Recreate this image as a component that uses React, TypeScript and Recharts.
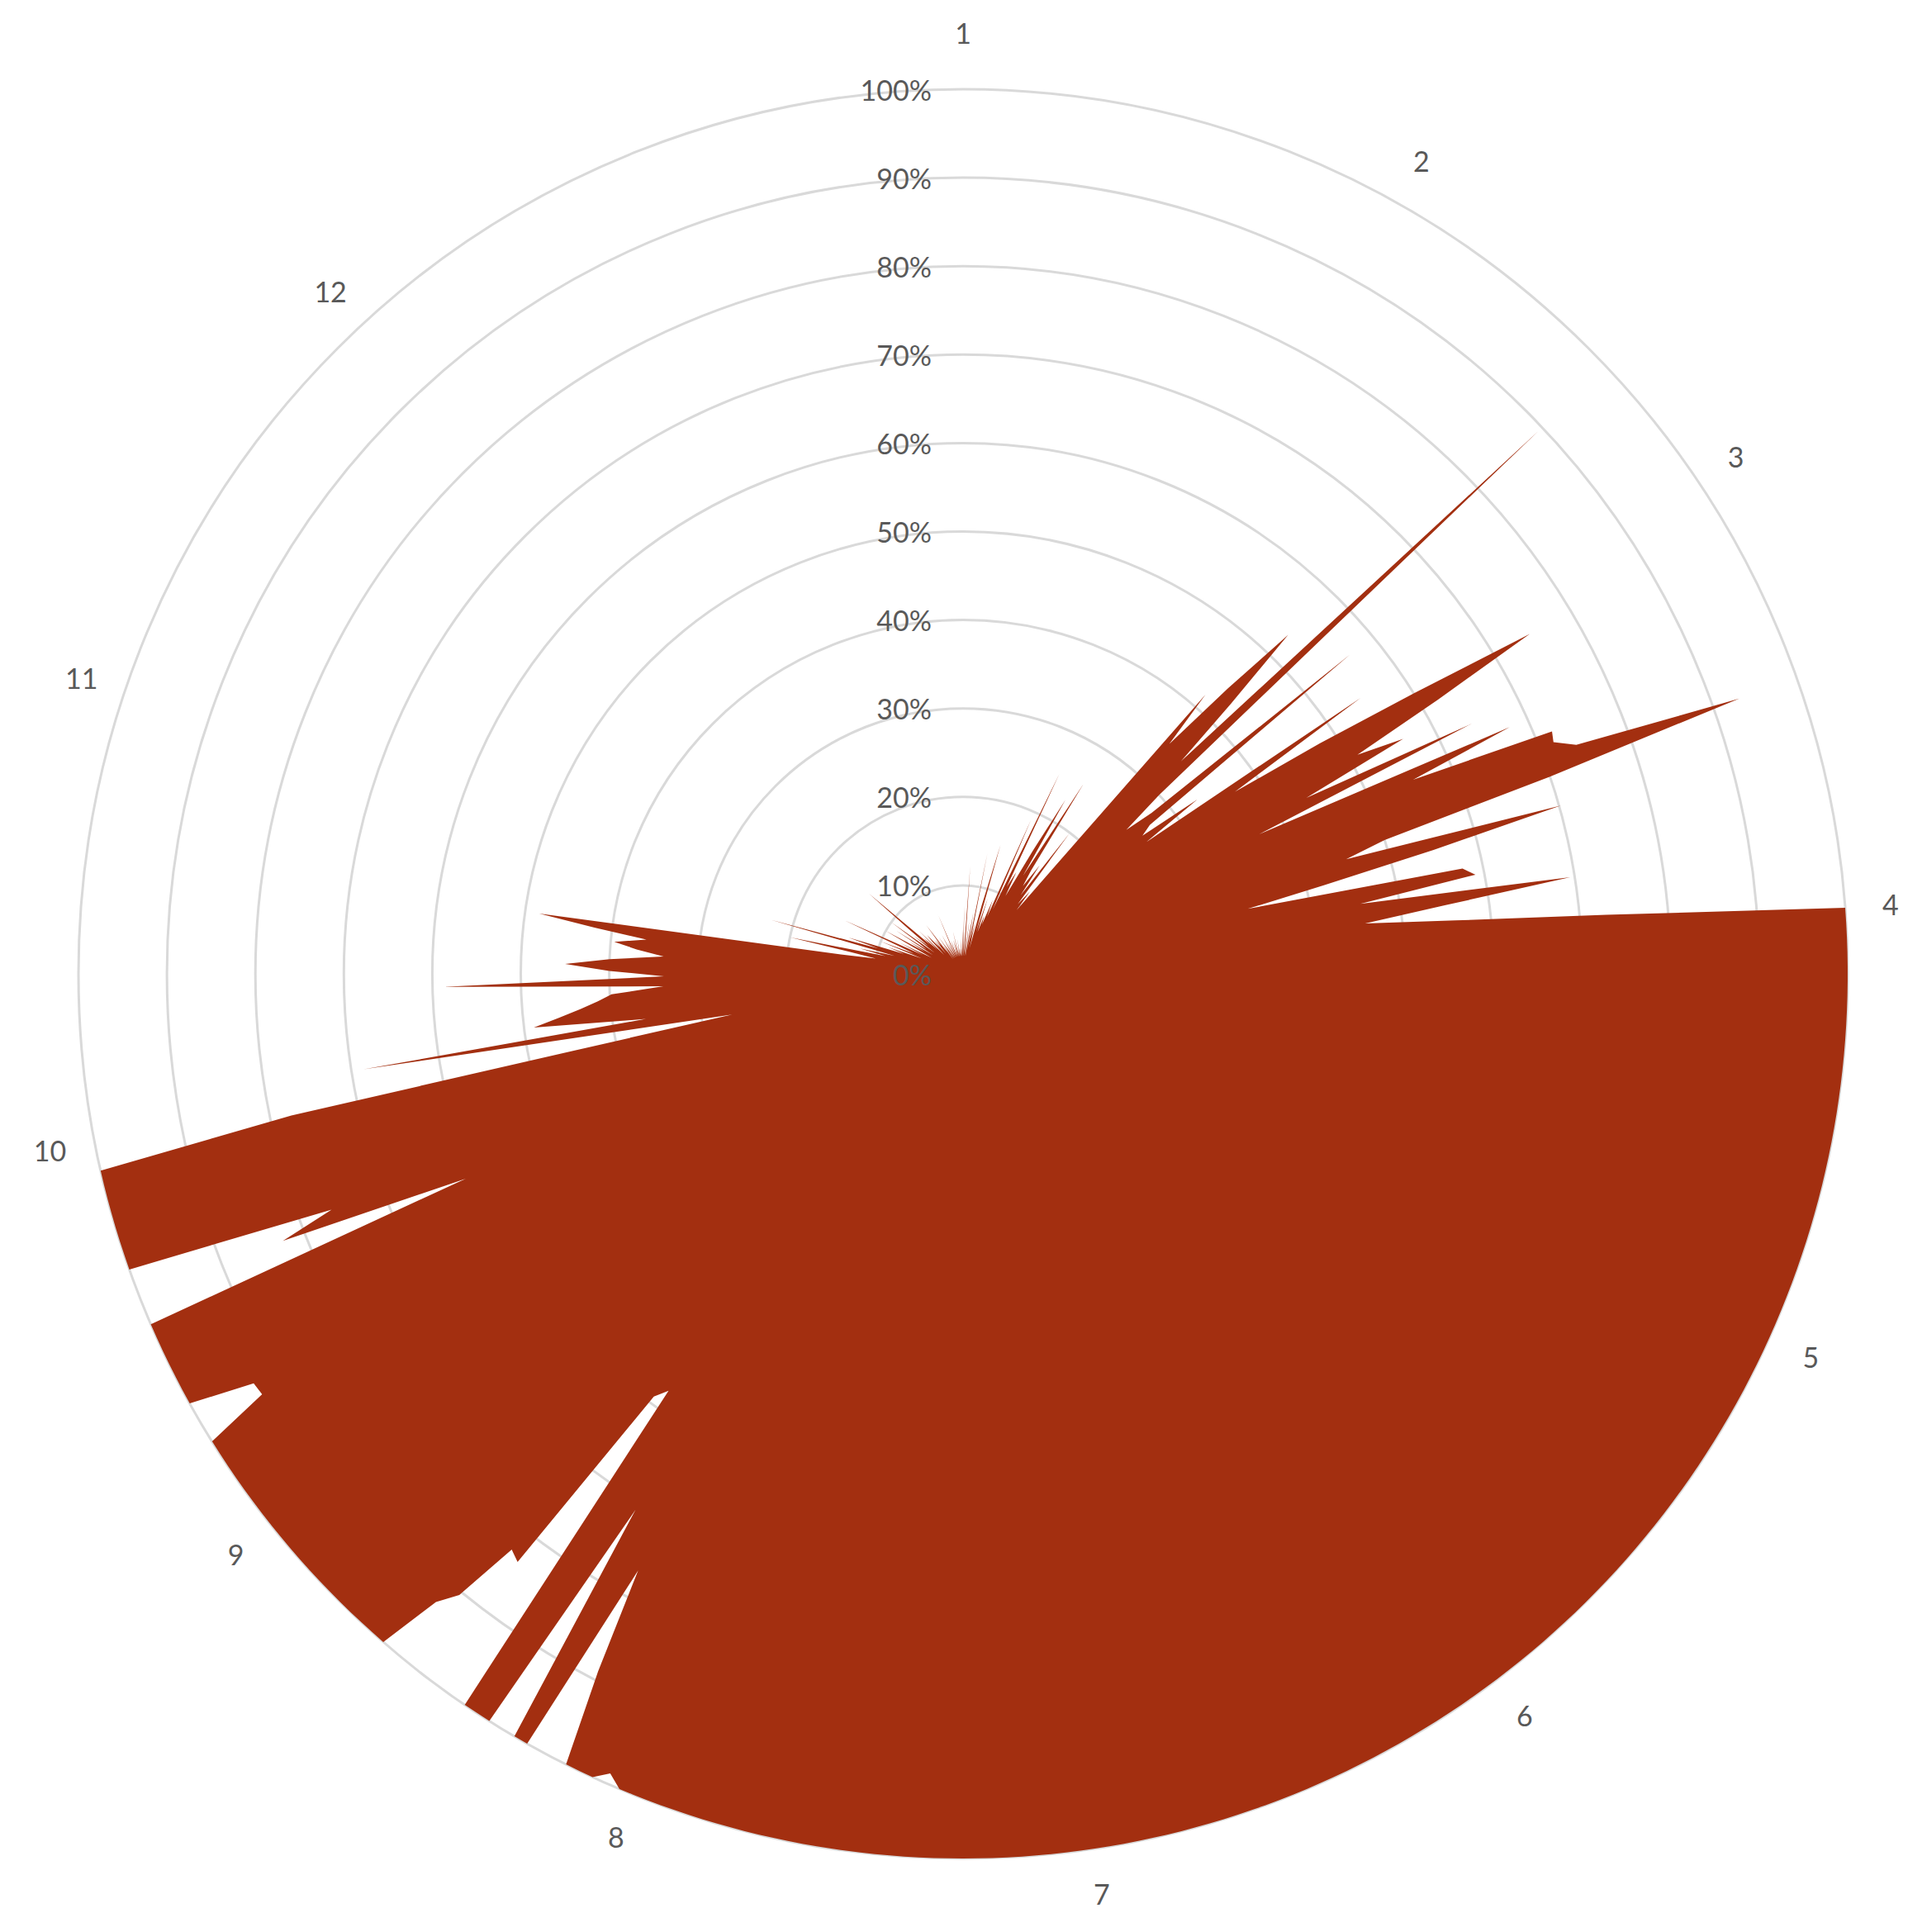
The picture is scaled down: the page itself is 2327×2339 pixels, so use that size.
import React from 'react';
import { RadarChart, Radar, PolarGrid, PolarAngleAxis, PolarRadiusAxis } from 'recharts';

// Daily share values (fraction of 1), one per category around the circle
const dayValues: number[] = [
  0.02, 0.077, 0.02, 0.04, 0.122, 0.02, 0.03, 0.06, 0.02, 0.04,
  0.07, 0.03, 0.139, 0.04, 0.06, 0.03, 0.08, 0.152, 0.05, 0.09,
  0.05, 0.07, 0.06, 0.09, 0.07, 0.19, 0.08, 0.251, 0.11, 0.13,
  0.10, 0.16, 0.228, 0.13, 0.254, 0.14, 0.12, 0.15, 0.11, 0.199,
  0.10, 0.12, 0.094, 0.418, 0.349, 0.44, 0.531, 0.43, 0.344, 0.894,
  0.30, 0.246, 0.28, 0.567, 0.27, 0.256, 0.33, 0.255, 0.547, 0.37,
  0.48, 0.60, 0.747, 0.62, 0.51, 0.564, 0.436, 0.641, 0.37, 0.678,
  0.554, 0.72, 0.717, 0.74, 0.931, 0.70, 0.50, 0.452, 0.702, 0.55,
  0.42, 0.33, 0.577, 0.59, 0.456, 0.695, 0.55, 0.458, 0.56, 0.73,
  1, 1, 1, 1, 1, 1, 1, 1, 1, 1,
  1, 1, 1, 1, 1, 1, 1, 1, 1, 1,
  1, 1, 1, 1, 1, 1, 1, 1, 1, 1,
  1, 1, 1, 1, 1, 1, 1, 1, 1, 1,
  1, 1, 1, 1, 1, 1, 1, 1, 1, 1,
  1, 1, 1, 1, 1, 1, 1, 1, 1, 1,
  1, 1, 1, 1, 1, 1, 1, 1, 1, 1,
  1, 1, 1, 1, 1, 1, 1, 1, 1, 1,
  1, 1, 1, 1, 1, 1, 1, 1, 1, 1,
  1, 1, 1, 1, 1, 1, 1, 1, 1, 1,
  1, 1, 1, 1, 1, 1, 1, 1, 1, 1,
  1, 1, 1, 1, 1, 1, 1, 1, 1, 1,
  1, 1, 1, 1, 0.988, 1, 1, 1, 0.89, 0.768,
  1, 1, 0.71, 1, 1, 1, 0.577, 0.592, 0.834, 0.827,
  0.904, 0.927, 1, 1, 1, 1, 1, 1, 1, 1,
  1, 1, 1, 1, 1, 1, 1, 1, 1, 1,
  1, 0.924, 0.926, 1, 1, 1, 1, 1, 1, 1,
  0.608, 0.826, 0.762, 1, 1, 1, 1, 1, 1, 1,
  1, 0.776, 0.40, 0.265, 0.686, 0.362, 0.489, 0.459, 0.434, 0.414,
  0.398, 0.339, 0.588, 0.338, 0.40, 0.45, 0.40, 0.339, 0.37, 0.396,
  0.36, 0.42, 0.484, 0.14, 0.10, 0.13, 0.20, 0.09, 0.12, 0.08,
  0.226, 0.10, 0.136, 0.07, 0.09, 0.05, 0.10, 0.06, 0.08, 0.147,
  0.05, 0.08, 0.04, 0.06, 0.10, 0.05, 0.07, 0.04, 0.09, 0.05,
  0.06, 0.10, 0.04, 0.07, 0.05, 0.08, 0.14, 0.05, 0.06, 0.04,
  0.07, 0.03, 0.05, 0.06, 0.04, 0.05, 0.03, 0.05, 0.04, 0.069,
  0.03, 0.04, 0.02, 0.05, 0.03, 0.04, 0.02, 0.03, 0.05, 0.02,
  0.03, 0.04, 0.02, 0.03, 0.073, 0.02, 0.03, 0.04, 0.02, 0.03,
  0.02, 0.04, 0.03, 0.02, 0.05, 0.02, 0.03, 0.02, 0.04, 0.02,
  0.03, 0.02, 0.03, 0.02, 0.04, 0.02, 0.03, 0.05,
];

// Category labels: month number shown at the category where each month starts
const monthStartDays: number[] = [0, 31, 59, 90, 120, 150, 180, 212, 243, 272, 303, 333];
const monthLabels: string[] = ['1', '2', '3', '4', '5', '6', '7', '8', '9', '10', '11', '12'];

// Radius axis ticks
const radiusTicks: number[] = [0, 0.1, 0.2, 0.3, 0.4, 0.5, 0.6, 0.7, 0.8, 0.9, 1];

const labelByDay: Record<number, string> = {};
monthStartDays.forEach((d, k) => {
  labelByDay[d] = monthLabels[k];
});

const chartData = dayValues.map((v, i) => ({ day: i, value: v }));

const CX = 1166;
const CY = 1179;
const OUTER_R = 1071;
const FONT = 'Lato, "Open Sans", "Liberation Sans", sans-serif';
const TEXT_COLOR = '#595959';
const RAD = Math.PI / 180;

const AngleTick = (props: any) => {
  const { payload } = props;
  const label = labelByDay[payload?.value];
  if (!label) return null;
  const angle = payload.coordinate;
  const r = OUTER_R + 55;
  const s = Math.sin(angle * RAD);
  const lift = 14 * Math.pow(Math.max(0, s), 8);
  const x = CX + r * Math.cos(-angle * RAD);
  const y = CY + r * Math.sin(-angle * RAD) - lift;
  return (
    <text
      x={x}
      y={y}
      textAnchor="middle"
      dominantBaseline="central"
      fill={TEXT_COLOR}
      fontSize={34}
      fontFamily={FONT}
    >
      {label}
    </text>
  );
};

const RadiusTick = (props: any) => {
  const { x, y, payload } = props;
  return (
    <text
      x={x - 38}
      y={y}
      textAnchor="end"
      dominantBaseline="central"
      fill={TEXT_COLOR}
      fontSize={34}
      fontFamily={FONT}
    >
      {`${Math.round(payload.value * 100)}%`}
    </text>
  );
};

export default function App() {
  return (
    <div style={{ position: 'absolute', left: 0, top: 0, width: 2327, height: 2339, background: '#ffffff' }}>
      <RadarChart
        width={2327}
        height={2339}
        data={chartData}
        cx={CX}
        cy={CY}
        outerRadius={OUTER_R}
        margin={{ top: 0, right: 0, bottom: 0, left: 0 }}
      >
        <PolarGrid gridType="circle" radialLines={false} stroke="#d9d9d9" strokeWidth={3} />
        <PolarAngleAxis dataKey="day" axisLine={false} tickLine={false} tick={<AngleTick />} />
        <Radar
          dataKey="value"
          fill="#a32f10"
          fillOpacity={1}
          stroke="none"
          dot={false}
          isAnimationActive={false}
        />
        <PolarRadiusAxis
          angle={90}
          domain={[0, 1]}
          ticks={radiusTicks}
          type="number"
          axisLine={false}
          tickLine={false}
          tick={<RadiusTick />}
        />
      </RadarChart>
    </div>
  );
}
